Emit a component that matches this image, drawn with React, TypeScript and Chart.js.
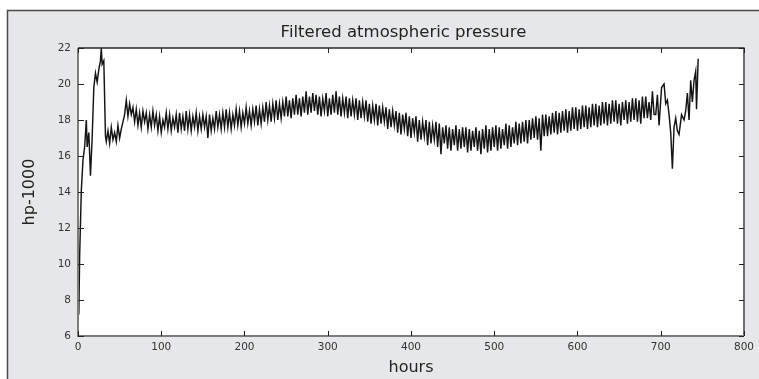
import React, { useEffect, useRef } from "react";
import { Chart, registerables } from "chart.js";

Chart.register(...registerables);

// ---- data (hours, hp-1000) ----
const earlyHours = [1, 2, 4, 6, 8, 10, 11, 13, 15, 17, 19, 21, 23, 25, 27, 28, 29, 31, 33];
const earlyValues = [7.2, 10.5, 14.1, 15.8, 16.5, 18.0, 16.5, 17.3, 14.9, 17.0, 19.8, 20.6, 20.1, 20.8, 21.3, 22.0, 21.1, 21.3, 17.1];

const mainStartHour = 34;
const mainStepHours = 2;
const mainValues = [
  16.8, 17.4, 16.7, 17.6, 16.9, 17.3,
  16.8, 17.7, 17.0, 17.5, 17.9, 18.3,
  19.1, 18.2, 18.9, 18.3, 18.7, 17.9,
  18.6, 17.7, 18.4, 17.6, 18.5, 17.9,
  18.4, 17.5, 18.3, 17.6, 18.5, 17.7,
  18.3, 17.4, 18.2, 17.3, 18.0, 17.6,
  18.4, 17.5, 18.3, 17.4, 18.1, 17.6,
  18.3, 17.3, 18.4, 17.5, 18.2, 17.4,
  18.5, 17.5, 18.3, 17.4, 18.2, 17.6,
  18.4, 17.4, 18.2, 17.5, 18.3, 17.6,
  18.2, 17.0, 18.3, 17.4, 18.1, 17.5,
  18.5, 17.6, 18.3, 17.5, 18.4, 17.6,
  18.6, 17.6, 18.4, 17.5, 18.3, 17.7,
  18.6, 17.7, 18.5, 17.6, 18.4, 17.8,
  18.7, 17.8, 18.5, 17.7, 18.6, 17.9,
  18.8, 17.7, 18.6, 17.8, 18.7, 17.9,
  19.0, 18.0, 18.8, 17.9, 18.9, 18.1,
  19.1, 18.0, 18.9, 18.1, 19.0, 18.2,
  19.3, 18.2, 19.1, 18.1, 19.2, 18.3,
  19.4, 18.3, 19.2, 18.2, 19.3, 18.4,
  19.6, 18.3, 19.3, 18.4, 19.5, 18.5,
  19.4, 18.3, 19.3, 18.2, 19.2, 18.5,
  19.5, 18.2, 19.2, 18.3, 19.4, 18.4,
  19.6, 18.3, 19.3, 18.2, 19.2, 18.4,
  19.3, 18.1, 19.2, 18.2, 19.1, 18.3,
  19.2, 18.0, 19.1, 18.1, 19.0, 18.2,
  19.1, 17.9, 18.9, 17.8, 18.8, 18.0,
  18.9, 17.7, 18.8, 17.8, 18.7, 17.9,
  18.7, 17.5, 18.6, 17.6, 18.5, 17.7,
  18.5, 17.3, 18.4, 17.2, 18.3, 17.5,
  18.4, 17.1, 18.2, 17.0, 18.1, 17.3,
  18.2, 16.8, 18.0, 16.9, 17.9, 17.1,
  18.0, 16.6, 17.9, 16.7, 17.7, 16.9,
  17.9, 16.5, 17.8, 16.1, 17.6, 16.7,
  17.7, 16.4, 17.6, 16.3, 17.5, 16.6,
  17.7, 16.3, 17.5, 16.4, 17.6, 16.5,
  17.6, 16.2, 17.5, 16.3, 17.4, 16.5,
  17.6, 16.3, 17.4, 16.1, 17.5, 16.4,
  17.7, 16.2, 17.5, 16.3, 17.6, 16.5,
  17.7, 16.3, 17.6, 16.4, 17.5, 16.6,
  17.8, 16.4, 17.7, 16.5, 17.6, 16.7,
  17.9, 16.6, 17.8, 16.7, 17.9, 16.8,
  18.0, 16.7, 18.0, 16.9, 18.1, 17.0,
  18.2, 16.9, 18.1, 16.3, 18.3, 17.1,
  18.3, 17.1, 18.2, 17.2, 18.4, 17.3,
  18.5, 17.2, 18.4, 17.3, 18.5, 17.4,
  18.6, 17.3, 18.5, 17.4, 18.7, 17.5,
  18.7, 17.4, 18.6, 17.5, 18.8, 17.6,
  18.8, 17.5, 18.7, 17.6, 18.9, 17.7,
  18.9, 17.6, 18.8, 17.7, 19.0, 17.8,
  19.0, 17.7, 18.9, 17.8, 19.1, 17.9,
  19.1, 17.8, 18.9, 17.7, 19.0, 18.0,
  19.1, 17.8, 19.0, 17.9, 19.2, 18.0,
  19.2, 17.9, 19.1, 17.8, 19.3, 18.1,
  19.3, 18.1, 19.0, 18.0, 19.6, 18.3,
];

const lateHours = [694, 696, 698, 701, 704, 706, 708, 710, 712, 714, 716, 718, 720, 722, 725, 728, 730, 732, 734, 736, 738, 740, 742, 743, 745];
const lateValues = [18.3, 19.4, 17.7, 19.8, 20.0, 18.9, 19.1, 18.3, 17.3, 15.3, 17.6, 18.1, 17.4, 17.2, 18.3, 18.0, 18.5, 19.5, 18.0, 20.2, 19.0, 20.2, 20.7, 18.6, 21.4];

const xTicks = [0, 100, 200, 300, 400, 500, 600, 700, 800];
const yTicks = [6, 8, 10, 12, 14, 16, 18, 20, 22];

const chartTitle = "Filtered atmospheric pressure";
const xLabel = "hours";
const yLabel = "hp-1000";

const FONT = '"DejaVu Sans", "Liberation Sans", Arial, sans-serif';

const figurePlugin = {
  id: "figureFrame",
  beforeDraw(chart: any) {
    const { ctx, width, height, chartArea: a } = chart;
    ctx.save();
    ctx.fillStyle = "#ffffff";
    ctx.fillRect(0, 0, width, height);
    ctx.fillStyle = "#e6e7e8";
    ctx.fillRect(7, 10, width - 7, height - 10);
    ctx.strokeStyle = "#4a4a4a";
    ctx.lineWidth = 1.5;
    ctx.beginPath();
    ctx.moveTo(7.5, height);
    ctx.lineTo(7.5, 10.5);
    ctx.lineTo(width, 10.5);
    ctx.stroke();
    ctx.fillStyle = "#ffffff";
    ctx.fillRect(a.left, a.top, a.right - a.left, a.bottom - a.top);
    ctx.restore();
  },
  afterDraw(chart: any) {
    const { ctx, chartArea: a, scales } = chart;
    const xs = scales.x;
    const ys = scales.y;
    ctx.save();
    ctx.strokeStyle = "#2a2a2a";
    ctx.lineWidth = 1.3;
    ctx.beginPath();
    ctx.moveTo(a.left, a.top);
    ctx.lineTo(a.right, a.top);
    ctx.lineTo(a.right, a.bottom);
    ctx.stroke();
    ctx.strokeStyle = "#7d7d7d";
    ctx.lineWidth = 2;
    ctx.beginPath();
    ctx.moveTo(a.left, a.top);
    ctx.lineTo(a.left, a.bottom);
    ctx.lineTo(a.right, a.bottom);
    ctx.stroke();
    ctx.strokeStyle = "#222";
    ctx.lineWidth = 1;
    const tl = 5;
    ctx.beginPath();
    xTicks.forEach((t) => {
      const px = Math.round(xs.getPixelForValue(t)) + 0.5;
      ctx.moveTo(px, a.bottom);
      ctx.lineTo(px, a.bottom - tl);
      ctx.moveTo(px, a.top);
      ctx.lineTo(px, a.top + tl);
    });
    yTicks.forEach((t) => {
      const py = Math.round(ys.getPixelForValue(t)) + 0.5;
      ctx.moveTo(a.left, py);
      ctx.lineTo(a.left + tl + 1, py);
      ctx.moveTo(a.right, py);
      ctx.lineTo(a.right - tl, py);
    });
    ctx.stroke();
    ctx.fillStyle = "#222";
    ctx.font = `16.5px ${FONT}`;
    ctx.textAlign = "center";
    ctx.textBaseline = "alphabetic";
    ctx.fillText(chartTitle, 403.5, 37);
    ctx.restore();
  },
};

export default function App() {
  const canvasRef = useRef<HTMLCanvasElement | null>(null);

  useEffect(() => {
    document.body.style.margin = "0";
    const canvas = canvasRef.current;
    if (!canvas) return;

    const points: { x: number; y: number }[] = [];
    earlyHours.forEach((h, i) => points.push({ x: h, y: earlyValues[i] }));
    mainValues.forEach((v, i) => points.push({ x: mainStartHour + i * mainStepHours, y: v }));
    lateHours.forEach((h, i) => points.push({ x: h, y: lateValues[i] }));

    const chart = new Chart(canvas, {
      type: "line",
      data: {
        datasets: [
          {
            data: points,
            borderColor: "#141414",
            borderWidth: 1.45,
            pointRadius: 0,
            tension: 0,
            fill: false,
          },
        ],
      },
      plugins: [figurePlugin],
      options: {
        animation: false,
        responsive: true,
        maintainAspectRatio: false,
        layout: { padding: { top: 48, right: 12, left: 0, bottom: 0 } },
        plugins: {
          legend: { display: false },
          tooltip: { enabled: false },
          title: { display: false },
        },
        scales: {
          x: {
            type: "linear",
            min: 0,
            max: 800,
            afterBuildTicks: (s: any) => {
              s.ticks = xTicks.map((v) => ({ value: v }));
            },
            grid: { display: false, drawTicks: false },
            border: { display: false },
            ticks: {
              padding: 5,
              color: "#333",
              font: { family: FONT, size: 10.5 },
              maxRotation: 0,
              autoSkip: false,
            },
            title: {
              display: true,
              text: xLabel,
              color: "#222",
              font: { family: FONT, size: 16 },
              padding: { top: 0, bottom: 2 },
            },
            afterFit: (s: any) => {
              s.height = 43;
            },
          },
          y: {
            type: "linear",
            min: 6,
            max: 22,
            afterBuildTicks: (s: any) => {
              s.ticks = yTicks.map((v) => ({ value: v }));
            },
            grid: { display: false, drawTicks: false },
            border: { display: false },
            ticks: {
              padding: 7,
              color: "#333",
              font: { family: FONT, size: 10.5 },
              autoSkip: false,
            },
            title: {
              display: true,
              text: yLabel,
              color: "#222",
              font: { family: FONT, size: 16 },
              padding: { top: 20, bottom: 0 },
            },
            afterFit: (s: any) => {
              s.width = 78;
            },
          },
        },
      },
    });

    return () => chart.destroy();
  }, []);

  return (
    <div style={{ width: 759, height: 379, position: "relative" }}>
      <canvas ref={canvasRef} />
    </div>
  );
}
